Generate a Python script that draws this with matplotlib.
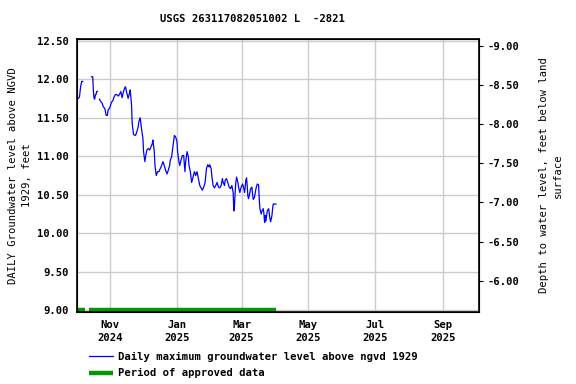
import datetime as dt
import numpy as np
import matplotlib
matplotlib.use("Agg")
import matplotlib.pyplot as plt
import matplotlib.dates as mdates

plt.rcParams["font.family"] = "DejaVu Sans Mono"
plt.rcParams["font.weight"] = "bold"
plt.rcParams["font.size"] = 7.6

start = dt.datetime(2024, 10, 2)
x_end = dt.datetime(2025, 10, 4)

# days after 2024-10-02 (nan = break in record) and daily max level, ft above NGVD 1929
days = [0, 1, 2, 3, 4, 5, np.nan,
        12.9, 14.1, 14.7, 15.3, 15.9, 16.5, 17.1, 17.7, 18.3, np.nan,
        20.2, 21.4, 22.6, 23.8, 25.1, 25.7, 26.3, 27.5, 28.1, 29.3, 29.9, 31.2, 32.4,
        33.6, 34.8, 36.1, 37.3, 38.5, 39.7, 40.9, 42.2, 43.4, 44.0, 45.2, 46.4, 47.7,
        48.3, 49.5, 50.1, 51.3, 53.2, 54.4, 55.6, 56.2, 57.4, 58.6, 59.9, 60.5, 61.7,
        62.3, 63.5, 64.8, 66.0, 67.2, 68.4, 69.0, 69.6, 70.3, 70.9, 72.1, 73.3, 74.5,
        75.8, 77.0, 78.2, 79.4, 80.6, 81.9, 83.1, 84.3, 84.9, 86.1, 87.3, 88.6, 89.8,
        91.0, 91.6, 92.8, 93.5, 94.7, 95.9, 97.1, 98.3, 98.9, 100.2, 101.4, 102.0,
        103.2, 104.4, 105.7, 106.9, 108.1, 109.3, 110.6, 111.8, 113.0, 114.2, 115.4,
        116.7, 117.3, 117.9, 119.1, 120.3, 120.9, 122.2, 122.8, 124.0, 125.2, 126.4,
        127.6, 128.9, 130.1, 131.3, 132.5, 133.1, 134.4, 135.0, 136.2, 137.4, 138.6,
        139.9, 141.1, 142.3, 142.9, 143.5, 144.1, 144.7, 145.4, 146.6, 147.2, 148.4,
        149.6, 150.2, 150.9, 152.1, 152.7, 153.9, 154.5, 155.1, 155.7, 156.3, 157.6,
        158.2, 159.4, 160.0, 160.6, 161.8, 163.1, 164.3, 165.5, 166.1, 166.7, 167.9,
        168.6, 169.8, 170.4, 171.0, 171.6, 172.2, 173.4, 174.7, 175.3, 175.9, 176.5,
        177.7, 178.3, 178.9, 181.4]
level = [11.75, 11.75, 11.77, 11.90, 11.97, 11.97, np.nan,
         12.03, 12.03, 11.84, 11.75, 11.74, 11.80, 11.80, 11.84, 11.84, np.nan,
         11.74, 11.71, 11.69, 11.64, 11.62, 11.58, 11.53, 11.53, 11.60, 11.62, 11.64, 11.70, 11.72,
         11.77, 11.80, 11.80, 11.78, 11.80, 11.84, 11.76, 11.84, 11.89, 11.90, 11.82, 11.75, 11.82,
         11.86, 11.67, 11.43, 11.28, 11.27, 11.32, 11.38, 11.45, 11.50, 11.36, 11.23, 11.06, 10.93,
         10.99, 11.08, 11.10, 11.08, 11.12, 11.16, 11.21, 11.14, 11.06, 10.88, 10.75, 10.80, 10.80,
         10.84, 10.88, 10.93, 10.88, 10.82, 10.77, 10.82, 10.88, 10.95, 10.99, 11.13, 11.27, 11.25,
         11.19, 11.05, 10.93, 10.88, 10.95, 11.01, 11.01, 10.80, 10.93, 11.06, 10.99, 10.88,
         10.80, 10.66, 10.73, 10.80, 10.75, 10.80, 10.71, 10.62, 10.59, 10.56, 10.60,
         10.66, 10.75, 10.84, 10.89, 10.86, 10.89, 10.84, 10.75, 10.62, 10.59, 10.62,
         10.66, 10.60, 10.59, 10.62, 10.71, 10.66, 10.62, 10.69, 10.71, 10.66, 10.60,
         10.58, 10.62, 10.53, 10.29, 10.36, 10.53, 10.66, 10.73, 10.66, 10.60, 10.53,
         10.60, 10.62, 10.64, 10.58, 10.53, 10.69, 10.72, 10.62, 10.49, 10.45, 10.53,
         10.58, 10.60, 10.51, 10.44, 10.47, 10.58, 10.64, 10.63, 10.45, 10.32, 10.25,
         10.29, 10.32, 10.25, 10.14, 10.23, 10.16, 10.29, 10.32, 10.25, 10.19, 10.15,
         10.23, 10.32, 10.38, 10.38]

# approved-data periods, days after start
approved = [(0, 7), (10.7, 181.7)]

t = [mdates.date2num(start + dt.timedelta(days=d)) if not np.isnan(d) else np.nan for d in days]

fig = plt.figure(figsize=(5.76, 3.84), dpi=100)
ax = fig.add_axes([0.1342, 0.1888, 0.6979, 0.7096])

ln, = ax.plot(t, level, color="#0000ff", lw=0.9)
for a, b in approved:
    ap, = ax.plot([start + dt.timedelta(days=a), start + dt.timedelta(days=b)], [9.0, 9.0],
                  color="#009900", lw=3.2, solid_capstyle="butt")

ax.set_xlim(start, x_end)
ax.set_ylim(8.987, 12.52)
ax.set_yticks(np.arange(9.0, 12.51, 0.5))
ax.yaxis.set_major_formatter(matplotlib.ticker.FormatStrFormatter("%.2f"))
ax.xaxis.set_major_locator(mdates.MonthLocator(bymonth=[1, 3, 5, 7, 9, 11]))
ax.xaxis.set_major_formatter(mdates.DateFormatter("%b\n%Y"))
ax.grid(True, color="#cccccc", lw=1)
ax.set_axisbelow(True)
ax.tick_params(axis="both", length=0, pad=6)
for sp in ax.spines.values():
    sp.set_linewidth(1.2)
ax.set_ylabel("DAILY Groundwater level above NGVD\n1929, feet", labelpad=4, linespacing=1.45)

ax2 = ax.twinx()
ax2.set_ylim(-5.607, -9.086)
ax2.set_yticks(np.arange(-9.0, -5.99, 0.5))
ax2.yaxis.set_major_formatter(matplotlib.ticker.FormatStrFormatter("%.2f"))
ax2.tick_params(axis="y", length=3, pad=3)
ax2.set_ylabel("Depth to water level, feet below land\nsurface", labelpad=14, linespacing=1.45,
               rotation=90)

fig.text(0.4375, 0.95, "USGS 263117082051002 L  -2821", ha="center", va="center")

fig.legend([ln, ap], ["Daily maximum groundwater level above ngvd 1929", "Period of approved data"],
           loc="upper left", bbox_to_anchor=(0.155, 0.084), frameon=False, handlelength=2.2,
           handletextpad=0.5, labelspacing=0.62, borderaxespad=0, borderpad=0)

fig.canvas.draw()
for lbl in ax.get_xticklabels():
    lbl.set_linespacing(1.45)

fig.savefig("out.png", dpi=100)
